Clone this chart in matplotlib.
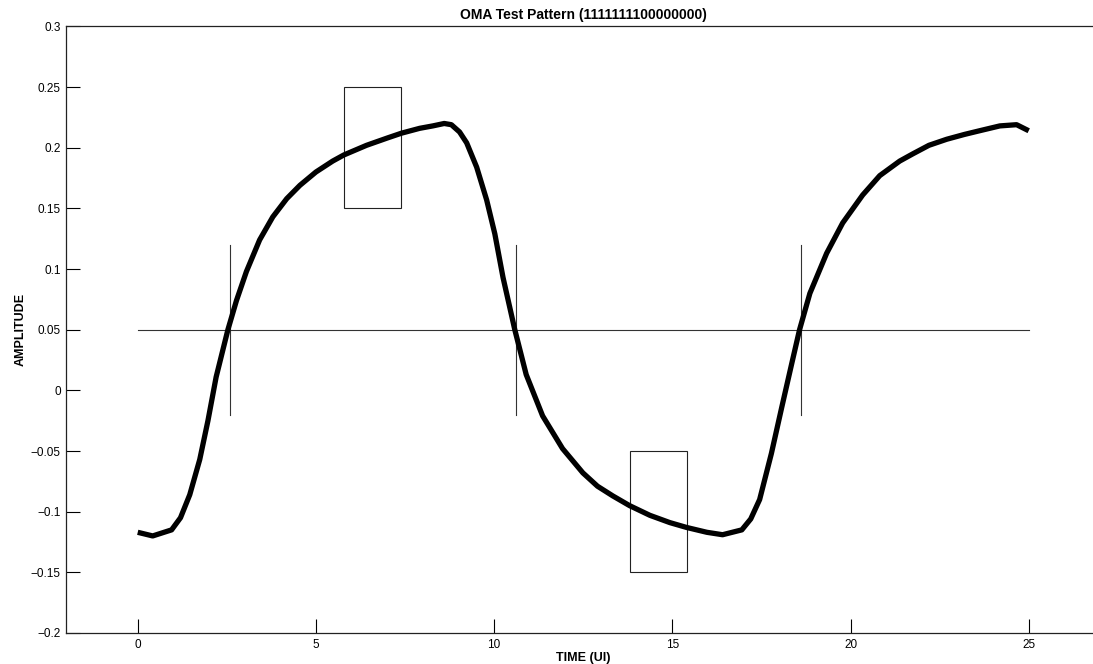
import matplotlib
matplotlib.use("Agg")
import matplotlib.pyplot as plt
from matplotlib.patches import Rectangle
from matplotlib.ticker import FuncFormatter

plt.rcParams['font.family'] = ['Liberation Sans', 'DejaVu Sans']

# waveform
t = [0, 0.42, 0.95, 1.2, 1.46, 1.74, 1.97, 2.2, 2.53, 2.77, 3.05, 3.42, 3.79,
     4.18, 4.55, 5.0, 5.47, 5.78, 6.42, 7.0, 7.4, 7.91, 8.28, 8.6, 8.8, 9.03,
     9.23, 9.51, 9.79, 10.02, 10.25, 10.58, 10.9, 11.36, 11.92, 12.49, 12.9,
     13.33, 13.8, 14.37, 14.93, 15.4, 15.97, 16.41, 16.95, 17.2, 17.45, 17.78,
     18.07, 18.35, 18.57, 18.86, 19.33, 19.78, 20.34, 20.82, 21.38, 21.75,
     22.2, 22.7, 23.2, 23.62, 24.19, 24.66, 25.0]
amp = [-0.117, -0.120, -0.115, -0.105, -0.086, -0.057, -0.025, 0.011, 0.050,
       0.074, 0.098, 0.124, 0.143, 0.158, 0.169, 0.180, 0.189, 0.194, 0.202,
       0.208, 0.212, 0.216, 0.218, 0.220, 0.219, 0.213, 0.204, 0.184, 0.157,
       0.129, 0.093, 0.050, 0.013, -0.021, -0.048, -0.068, -0.079, -0.087,
       -0.095, -0.103, -0.109, -0.113, -0.117, -0.119, -0.115, -0.106, -0.090,
       -0.052, -0.014, 0.022, 0.050, 0.080, 0.113, 0.138, 0.161, 0.177, 0.189,
       0.195, 0.202, 0.207, 0.211, 0.214, 0.218, 0.219, 0.214]

# reference level and crossing markers
mid_level = 0.05
level_span = [0, 25]
crossings = [2.6, 10.6, 18.6]
cross_span = [-0.02, 0.12]

# measurement windows: (x0, x1, y0, y1)
windows = [(5.8, 7.4, 0.15, 0.25), (13.8, 15.4, -0.15, -0.05)]

fig = plt.figure(figsize=(10.93, 6.64), dpi=100)
ax = fig.add_axes([0.0608, 0.0467, 0.9456, 0.9135])

ax.plot(level_span, [mid_level, mid_level], color='#333333', lw=0.8)
for c in crossings:
    ax.plot([c, c], cross_span, color='#333333', lw=0.8)
for x0, x1, y0, y1 in windows:
    ax.add_patch(Rectangle((x0, y0), x1 - x0, y1 - y0, fill=False,
                           edgecolor='#222222', lw=0.8))

ax.plot(t, amp, color='black', lw=3.8, solid_joinstyle='round',
        solid_capstyle='butt')

ax.set_xlim(-2, 27)
ax.set_ylim(-0.2, 0.3)
ax.set_xticks([0, 5, 10, 15, 20, 25])
ax.set_yticks([-0.2, -0.15, -0.1, -0.05, 0, 0.05, 0.1, 0.15, 0.2, 0.25, 0.3])


def fmt(v, pos):
    s = f"{round(v, 3):g}"
    if s == "-0":
        s = "0"
    return s.replace('-', '\u2212')


ax.yaxis.set_major_formatter(FuncFormatter(fmt))
ax.tick_params(direction='in', length=10, width=0.8, labelsize=8.5,
               top=False, right=False, pad=4)
for s in ax.spines.values():
    s.set_linewidth(0.9)
    s.set_color('#222222')

ax.set_title('OMA Test Pattern (1111111100000000)', fontsize=10,
             fontweight='bold', pad=5)
ax.set_xlabel('TIME (UI)', fontsize=9, fontweight='bold', labelpad=1)
ax.set_ylabel('AMPLITUDE', fontsize=9, fontweight='bold', labelpad=3)

fig.savefig('out.png', dpi=100)
